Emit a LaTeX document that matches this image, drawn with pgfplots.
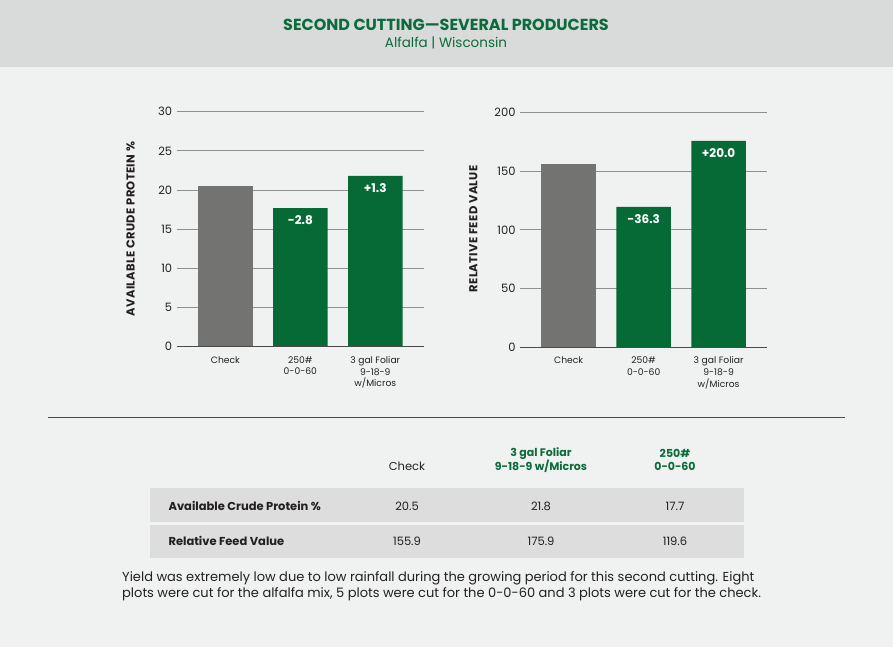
\documentclass[border=0pt]{standalone}
\usepackage{pgfplots}
\pgfplotsset{compat=1.18}
\usepackage{fontspec}
\setmainfont{Poppins}
\definecolor{pagebg}{HTML}{F0F2F1}
\definecolor{headbg}{HTML}{D9DBDA}
\definecolor{titlegreen}{HTML}{0B6B3A}
\definecolor{bargreen}{HTML}{066A37}
\definecolor{bargray}{HTML}{737371}
\definecolor{gridc}{HTML}{8C908E}
\definecolor{rowc}{HTML}{DCDDDC}
\definecolor{textc}{HTML}{231F20}
\definecolor{sepc}{HTML}{4A4A4A}
\pgfplotsset{
  barchart/.style={
    scale only axis, anchor=south west,
    xmin=-0.65, xmax=2.65, ymin=0,
    axis line style={draw=none}, major tick length=0pt,
    ymajorgrids, grid style={gridc, line width=0.9pt},
    xtick={0,1,2},
    xticklabels={Check,{250\#\\0-0-60},{3 gal Foliar\\9-18-9\\w/Micros}},
    xticklabel style={font=\fontsize{9.2}{11.8}\selectfont, align=center, text=textc, yshift=-6pt},
    yticklabel style={font=\fontsize{11.5}{13}\selectfont, text=textc, xshift=-1pt},
    /pgf/number format/assume math mode=true,
    ybar, bar width=54.5pt, bar shift=0pt, clip=false,
  },
  deltalabel/.style={nodes near coords, point meta=explicit symbolic,
    every node near coord/.append style={anchor=north, text=white,
      font=\bfseries\fontsize{12}{13}\selectfont, yshift=-4pt}},
}
\begin{document}
\begin{tikzpicture}[x=1pt,y=-1pt]
\fill[pagebg] (0,0) rectangle (893,647);
\fill[headbg] (0,0) rectangle (893,67);
\node[font=\bfseries\fontsize{16}{18}\selectfont, text=titlegreen] at (446,25) {SECOND CUTTING—SEVERAL PRODUCERS};
\node[font=\fontsize{13.5}{15}\selectfont, text=titlegreen] at (446,43) {Alfalfa | Wisconsin};
\coordinate (A1) at (176.7,346.7);
\coordinate (A2) at (520,347);
\begin{axis}[barchart, at={(A1)}, width=247.3pt, height=235pt, ymax=30, ytick={0,5,...,30}]
\addplot[fill=bargray, draw=none] coordinates {(0,20.5)};
\addplot[fill=bargreen, draw=none, deltalabel] coordinates {(1,17.7)[-2.8] (2,21.8)[+1.3]};
\draw[sepc, line width=0.9pt] (axis cs:-0.65,0) -- (axis cs:2.65,0);
\end{axis}
\begin{axis}[barchart, at={(A2)}, width=247.3pt, height=234.3pt, ymax=200, ytick={0,50,...,200}]
\addplot[fill=bargray, draw=none] coordinates {(0,155.9)};
\addplot[fill=bargreen, draw=none, deltalabel] coordinates {(1,119.6)[-36.3] (2,175.9)[+20.0]};
\draw[sepc, line width=0.9pt] (axis cs:-0.65,0) -- (axis cs:2.65,0);
\end{axis}
\node[rotate=90, font=\bfseries\fontsize{11.5}{13}\selectfont\addfontfeatures{LetterSpace=3}, text=textc] at (130.5,229) {AVAILABLE CRUDE PROTEIN \%};
\node[rotate=90, font=\bfseries\fontsize{11.5}{13}\selectfont\addfontfeatures{LetterSpace=3}, text=textc] at (473.3,229) {RELATIVE FEED VALUE};
\draw[sepc, line width=0.9pt] (48,417) -- (845,417);
% table
\fill[rowc] (150,488) rectangle (744,522);
\fill[rowc] (150,525) rectangle (744,558);
\node[font=\fontsize{11.5}{13}\selectfont, text=textc] at (407,466) {Check};
\node[font=\bfseries\fontsize{11}{13}\selectfont, text=titlegreen, align=center] at (541,460) {3 gal Foliar\\9-18-9 w/Micros};
\node[font=\bfseries\fontsize{11}{13}\selectfont, text=titlegreen, align=center] at (675,460) {250\#\\0-0-60};
\node[font=\bfseries\fontsize{11.5}{13}\selectfont, text=textc, anchor=west] at (165,506) {Available Crude Protein \%};
\node[font=\bfseries\fontsize{11.5}{13}\selectfont, text=textc, anchor=west] at (165,541) {Relative Feed Value};
\node[font=\fontsize{11.5}{13}\selectfont, text=textc] at (407,506) {20.5};
\node[font=\fontsize{11.5}{13}\selectfont, text=textc] at (541,506) {21.8};
\node[font=\fontsize{11.5}{13}\selectfont, text=textc] at (675,506) {17.7};
\node[font=\fontsize{11.5}{13}\selectfont, text=textc] at (407,541) {155.9};
\node[font=\fontsize{11.5}{13}\selectfont, text=textc] at (541,541) {175.9};
\node[font=\fontsize{11.5}{13}\selectfont, text=textc] at (675,541) {119.6};
\node[font=\fontsize{13}{15}\selectfont, text=textc, anchor=west, inner sep=0pt] at (122,578) {Yield was extremely low due to low rainfall during the growing period for this second cutting. Eight};
\node[font=\fontsize{13}{15}\selectfont, text=textc, anchor=west, inner sep=0pt] at (122,594) {plots were cut for the alfalfa mix, 5 plots were cut for the 0-0-60 and 3 plots were cut for the check.};
\end{tikzpicture}
\end{document}
